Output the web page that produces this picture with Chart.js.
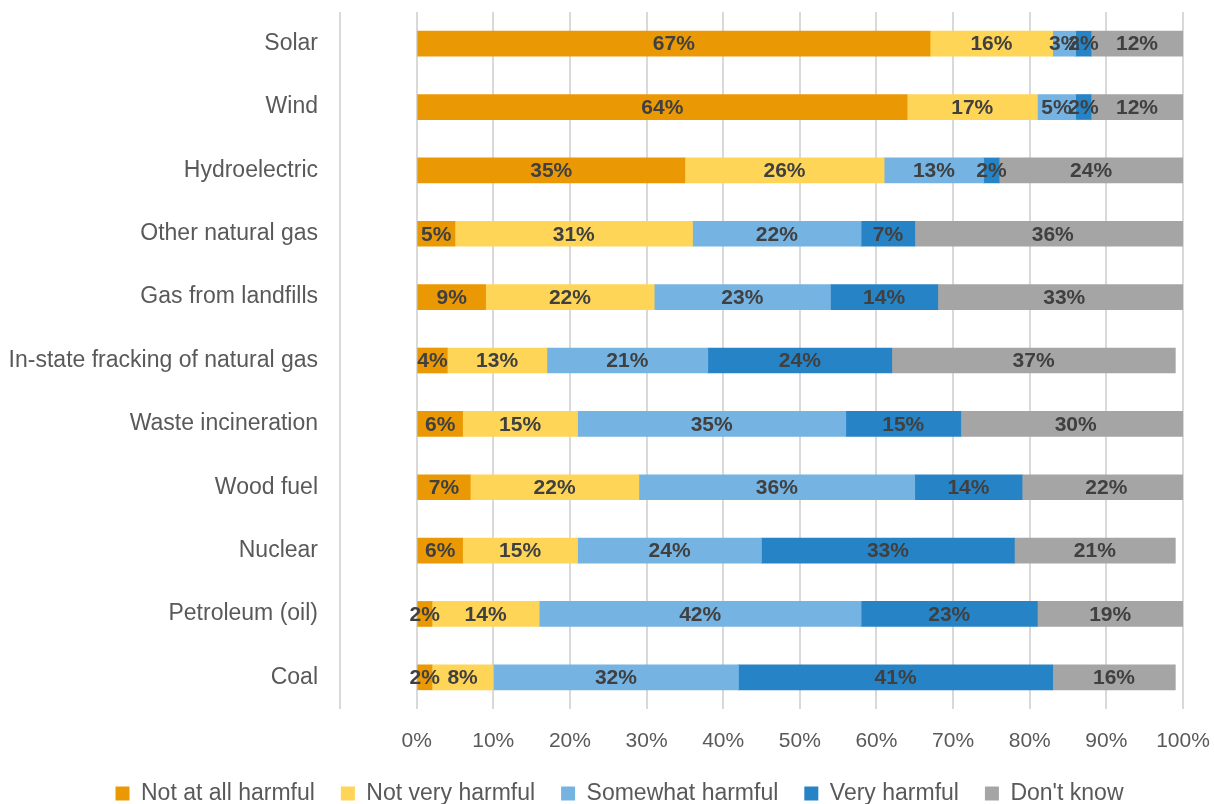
<!DOCTYPE html>
<html>
<head>
<meta charset="utf-8">
<script src="https://cdn.jsdelivr.net/npm/chart.js@4.4.0/dist/chart.umd.min.js"></script>
<style>
  html, body { margin: 0; padding: 0; background: #fff; }
  #wrap { width: 1214px; height: 804px; }
</style>
</head>
<body>
<div id="wrap"><canvas id="harmChart" width="1214" height="804"></canvas></div>
<script>
// categories top to bottom
const sources = [
  "Solar", "Wind", "Hydroelectric", "Other natural gas", "Gas from landfills",
  "In-state fracking of natural gas", "Waste incineration", "Wood fuel",
  "Nuclear", "Petroleum (oil)", "Coal"
];

// percent per answer
const notAtAll   = [67, 64, 35, 5, 9, 4, 6, 7, 6, 2, 2];
const notVery    = [16, 17, 26, 31, 22, 13, 15, 22, 15, 14, 8];
const somewhat   = [3, 5, 13, 22, 23, 21, 35, 36, 24, 42, 32];
const very       = [2, 2, 2, 7, 14, 24, 15, 14, 33, 23, 41];
const dontKnow   = [12, 12, 24, 36, 33, 37, 30, 22, 21, 19, 16];

const xTicks = [-10, 0, 10, 20, 30, 40, 50, 60, 70, 80, 90, 100];

const FONT = "'Liberation Sans', Arial, sans-serif";

// draws the value in the middle of each segment
const segmentLabels = {
  id: "segmentLabels",
  afterDatasetsDraw(chart) {
    const ctx = chart.ctx;
    ctx.save();
    ctx.fillStyle = "#404040";
    ctx.font = "bold 21px " + FONT;
    ctx.textAlign = "center";
    ctx.textBaseline = "middle";
    chart.data.datasets.forEach((ds, i) => {
      chart.getDatasetMeta(i).data.forEach((bar, j) => {
        const cx = (bar.x + bar.base) / 2;
        ctx.fillText(ds.data[j] + "%", cx, bar.y + 1);
      });
    });
    ctx.restore();
  }
};

function makeChart() {
  const ctx = document.getElementById("harmChart").getContext("2d");

  new Chart(ctx, {
    type: "bar",
    data: {
      labels: sources,
      datasets: [
        { label: "Not at all harmful", data: notAtAll, backgroundColor: "#ea9904" },
        { label: "Not very harmful", data: notVery, backgroundColor: "#ffd557" },
        { label: "Somewhat harmful", data: somewhat, backgroundColor: "#74b3e2" },
        { label: "Very harmful", data: very, backgroundColor: "#2683c6" },
        { label: "Don't know", data: dontKnow, backgroundColor: "#a5a5a5" },
      ],
    },
    options: {
      indexAxis: "y",
      responsive: false,
      animation: false,
      // negative right padding shifts the legend centre; x scale padding keeps the plot edge
      layout: { padding: { top: 12, right: -25, left: 0, bottom: -11 } },
      datasets: { bar: { barThickness: 25 } },
      plugins: {
        tooltip: { enabled: false },
        legend: {
          position: "bottom",
          labels: {
            color: "#595959",
            font: { family: FONT, size: 23 },
            boxWidth: 14,
            boxHeight: 14,
            padding: 26,
          },
        },
      },
      scales: {
        x: {
          stacked: true,
          min: -10,
          max: 100,
          afterBuildTicks: (scale) => {
            scale.ticks = xTicks.map((v) => ({ value: v }));
          },
          afterFit: (scale) => {
            scale.height = 47;
            scale.paddingLeft = 0;
            scale.paddingRight = 31;
          },
          grid: { color: "#d9d9d9", lineWidth: 2, drawTicks: false },
          border: { display: false },
          ticks: {
            color: "#595959",
            font: { family: FONT, size: 21 },
            padding: 20,
            callback: (v) => (v < 0 ? "" : v + "%"),
          },
        },
        y: {
          stacked: true,
          afterFit: (scale) => {
            scale.width = 340;
            scale.paddingTop = 0;
            scale.paddingBottom = 0;
          },
          grid: { display: false, drawTicks: false },
          border: { display: false },
          ticks: {
            color: "#595959",
            font: { family: FONT, size: 23 },
            padding: 22,
          },
        },
      },
    },
    plugins: [segmentLabels],
  });
}

makeChart();
</script>
</body>
</html>
